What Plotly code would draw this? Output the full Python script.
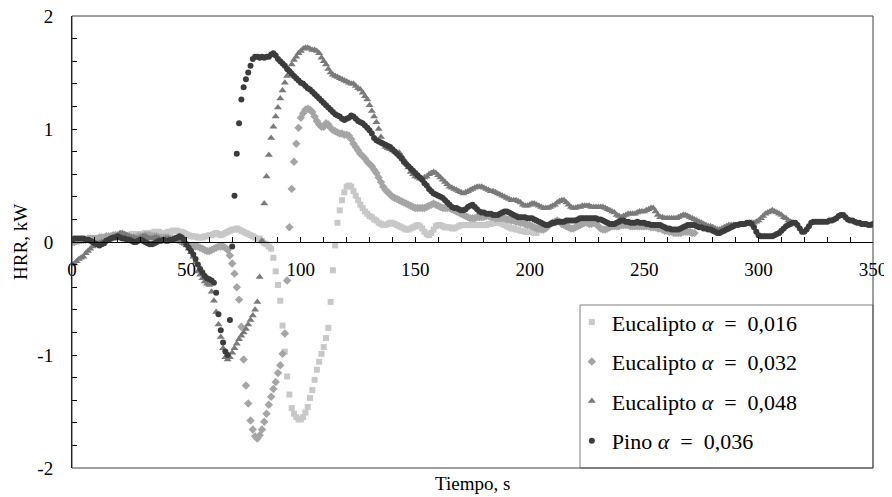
import plotly.graph_objects as go

# ---------------- data (HRR in kW, sampled every 1 s) ----------------
euc016 = [
    0.00, 0.00, 0.01, 0.01, 0.01, 0.02, 0.02, 0.02, 0.02, 0.03,
    0.03, 0.03, 0.03, 0.04, 0.04, 0.04, 0.04, 0.05, 0.05, 0.05,
    0.05, 0.06, 0.06, 0.06, 0.06, 0.06, 0.07, 0.07, 0.07, 0.07,
    0.07, 0.07, 0.08, 0.08, 0.08, 0.08, 0.09, 0.09, 0.09, 0.08,
    0.08, 0.08, 0.09, 0.09, 0.10, 0.10, 0.10, 0.09, 0.09, 0.08,
    0.07, 0.06, 0.05, 0.05, 0.05, 0.04, 0.04, 0.04, 0.05, 0.05,
    0.06, 0.06, 0.07, 0.08, 0.07, 0.06, 0.07, 0.08, 0.09, 0.10,
    0.11, 0.11, 0.12, 0.11, 0.10, 0.09, 0.08, 0.07, 0.06, 0.05,
    0.04, 0.03, 0.03, 0.01, -0.01, -0.02, -0.04, -0.06, -0.14, -0.26,
    -0.38, -0.52, -0.74, -0.97, -1.19, -1.35, -1.47, -1.52, -1.55, -1.57,
    -1.57, -1.55, -1.51, -1.46, -1.38, -1.31, -1.22, -1.13, -1.06, -0.99,
    -0.93, -0.85, -0.76, -0.53, -0.25, -0.03, 0.17, 0.28, 0.37, 0.44,
    0.49, 0.50, 0.49, 0.45, 0.41, 0.37, 0.33, 0.30, 0.27, 0.25,
    0.23, 0.22, 0.20, 0.19, 0.17, 0.16, 0.15, 0.15, 0.16, 0.17,
    0.17, 0.16, 0.15, 0.14, 0.13, 0.12, 0.11, 0.11, 0.12, 0.13,
    0.14, 0.15, 0.14, 0.12, 0.09, 0.07, 0.06, 0.08, 0.11, 0.14,
    0.15, 0.15, 0.14, 0.13, 0.13, 0.13, 0.12, 0.12, 0.13, 0.14,
    0.15, 0.15, 0.15, 0.15, 0.15, 0.15, 0.15, 0.15, 0.15, 0.15,
    0.15, 0.15, 0.16, 0.16, 0.17, 0.17, 0.18, 0.17, 0.16, 0.15,
    0.14, 0.13, 0.12, 0.12, 0.11, 0.11, 0.10, 0.10, 0.09, 0.09,
    0.09, 0.09, 0.08, 0.08,
]

euc032 = [
    0.00, 0.00, 0.01, 0.01, 0.02, 0.02, 0.02, 0.03, 0.03, 0.03,
    0.03, 0.03, 0.04, 0.04, 0.04, 0.05, 0.05, 0.05, 0.06, 0.06,
    0.06, 0.06, 0.06, 0.05, 0.05, 0.05, 0.04, 0.04, 0.04, 0.05,
    0.05, 0.05, 0.06, 0.06, 0.06, 0.05, 0.05, 0.05, 0.04, 0.04,
    0.04, 0.04, 0.04, 0.03, 0.03, 0.03, 0.02, 0.01, 0.00, -0.01,
    -0.02, -0.03, -0.04, -0.04, -0.04, -0.04, -0.05, -0.06, -0.07, -0.08,
    -0.08, -0.07, -0.06, -0.05, -0.04, -0.04, -0.04, -0.05, -0.07, -0.12,
    -0.19, -0.28, -0.40, -0.51, -0.75, -1.04, -1.27, -1.43, -1.58, -1.66,
    -1.72, -1.74, -1.71, -1.66, -1.59, -1.52, -1.44, -1.37, -1.30, -1.24,
    -1.16, -1.09, -0.99, -0.81, -0.34, 0.13, 0.47, 0.71, 0.87, 1.01,
    1.10, 1.14, 1.17, 1.18, 1.17, 1.15, 1.11, 1.07, 1.04, 1.02,
    1.02, 1.05, 1.04, 1.01, 0.99, 0.98, 0.97, 0.96, 0.96, 0.95,
    0.95, 0.94, 0.91, 0.87, 0.84, 0.81, 0.78, 0.76, 0.74, 0.71,
    0.69, 0.67, 0.64, 0.61, 0.57, 0.53, 0.49, 0.46, 0.44, 0.42,
    0.40, 0.39, 0.38, 0.37, 0.36, 0.35, 0.34, 0.33, 0.32, 0.31,
    0.30, 0.30, 0.30, 0.30, 0.30, 0.31, 0.32, 0.33, 0.34, 0.33,
    0.32, 0.31, 0.30, 0.30, 0.30, 0.30, 0.29, 0.28, 0.27, 0.26,
    0.25, 0.24, 0.23, 0.22, 0.21, 0.21, 0.21, 0.22, 0.22, 0.22,
    0.22, 0.23, 0.23, 0.22, 0.22, 0.21, 0.21, 0.21, 0.21, 0.21,
    0.20, 0.20, 0.19, 0.19, 0.18, 0.18, 0.17, 0.17, 0.16, 0.15,
    0.15, 0.14, 0.13, 0.12, 0.12, 0.11, 0.11, 0.12, 0.14, 0.16,
    0.17, 0.18, 0.19, 0.18, 0.16, 0.15, 0.14, 0.13, 0.12, 0.12,
    0.13, 0.14, 0.15, 0.16, 0.17, 0.17, 0.16, 0.16, 0.17, 0.16,
    0.14, 0.12, 0.11, 0.11, 0.12, 0.13, 0.14, 0.14, 0.14, 0.14,
    0.15, 0.15, 0.15, 0.15, 0.14, 0.14, 0.14, 0.14, 0.14, 0.14,
    0.14, 0.14, 0.14, 0.13, 0.13, 0.13, 0.12, 0.12, 0.11, 0.10,
    0.10, 0.09, 0.09, 0.08, 0.08, 0.08, 0.08, 0.09, 0.09, 0.09,
    0.09, 0.08, 0.08,
]

euc048 = [
    -0.20, -0.19, -0.17, -0.15, -0.14, -0.13, -0.10, -0.08, -0.06, -0.04,
    -0.03, -0.02, -0.01, 0.00, 0.00, 0.01, 0.02, 0.03, 0.04, 0.05,
    0.06, 0.08, 0.08, 0.07, 0.06, 0.05, 0.04, 0.04, 0.03, 0.03,
    0.04, 0.05, 0.05, 0.04, 0.03, 0.03, 0.04, 0.04, 0.03, 0.02,
    0.02, 0.03, 0.03, 0.02, 0.02, 0.02, 0.03, 0.02, 0.01, -0.01,
    -0.03, -0.06, -0.09, -0.13, -0.18, -0.26, -0.29, -0.32, -0.35, -0.37,
    -0.38, -0.44, -0.52, -0.62, -0.73, -0.84, -0.94, -1.02, -1.04, -1.02,
    -0.98, -0.94, -0.90, -0.86, -0.83, -0.80, -0.77, -0.73, -0.69, -0.65,
    -0.60, -0.53, -0.31, 0.01, 0.34, 0.58, 0.77, 0.92, 1.02, 1.11,
    1.19, 1.27, 1.34, 1.41, 1.47, 1.52, 1.57, 1.61, 1.64, 1.67,
    1.69, 1.71, 1.72, 1.72, 1.71, 1.70, 1.70, 1.69, 1.67, 1.63,
    1.60, 1.57, 1.53, 1.50, 1.48, 1.47, 1.46, 1.45, 1.44, 1.43,
    1.42, 1.41, 1.40, 1.40, 1.38, 1.36, 1.35, 1.32, 1.29, 1.26,
    1.21, 1.16, 1.11, 1.06, 1.00, 0.93, 0.87, 0.84, 0.83, 0.82,
    0.81, 0.80, 0.79, 0.79, 0.76, 0.73, 0.70, 0.66, 0.62, 0.60,
    0.58, 0.57, 0.56, 0.56, 0.57, 0.58, 0.60, 0.61, 0.62, 0.61,
    0.59, 0.57, 0.55, 0.53, 0.51, 0.49, 0.48, 0.47, 0.46, 0.45,
    0.44, 0.43, 0.44, 0.45, 0.46, 0.47, 0.48, 0.49, 0.49, 0.49,
    0.48, 0.47, 0.46, 0.45, 0.45, 0.44, 0.43, 0.42, 0.41, 0.40,
    0.39, 0.38, 0.37, 0.37, 0.37, 0.36, 0.35, 0.33, 0.32, 0.32,
    0.33, 0.34, 0.34, 0.33, 0.32, 0.31, 0.30, 0.30, 0.30, 0.31,
    0.32, 0.33, 0.35, 0.36, 0.37, 0.37, 0.35, 0.33, 0.31, 0.30,
    0.30, 0.31, 0.31, 0.32, 0.32, 0.32, 0.32, 0.31, 0.31, 0.31,
    0.31, 0.31, 0.31, 0.30, 0.29, 0.28, 0.27, 0.26, 0.24, 0.23,
    0.22, 0.23, 0.24, 0.25, 0.25, 0.25, 0.25, 0.26, 0.27, 0.27,
    0.27, 0.28, 0.29, 0.30, 0.30, 0.27, 0.24, 0.22, 0.22, 0.21,
    0.21, 0.21, 0.21, 0.21, 0.21, 0.22, 0.23, 0.24, 0.24, 0.23,
    0.22, 0.21, 0.20, 0.19, 0.18, 0.17, 0.16, 0.15, 0.14, 0.14,
    0.13, 0.12, 0.11, 0.11, 0.12, 0.13, 0.14, 0.15, 0.15, 0.15,
    0.15, 0.15, 0.15, 0.16, 0.16, 0.16, 0.17, 0.17, 0.17, 0.18,
    0.19, 0.21, 0.23, 0.25, 0.26, 0.27, 0.28, 0.27, 0.26, 0.25,
    0.24, 0.22, 0.21, 0.19, 0.18, 0.17,
]

pino036 = [
    0.02, 0.03, 0.03, 0.03, 0.03, 0.03, 0.02, 0.02, 0.01, 0.00,
    -0.01, -0.02, -0.03, -0.02, -0.01, 0.01, 0.02, 0.03, 0.04, 0.04,
    0.05, 0.04, 0.03, 0.03, 0.02, 0.02, 0.01, 0.00, 0.00, 0.01,
    0.02, 0.01, 0.00, -0.01, -0.02, -0.02, -0.01, 0.00, 0.01, 0.01,
    0.02, 0.01, 0.01, 0.02, 0.02, 0.03, 0.04, 0.05, 0.04, 0.02,
    -0.02, -0.05, -0.08, -0.11, -0.15, -0.20, -0.24, -0.27, -0.30, -0.32,
    -0.33, -0.34, -0.36, -0.45, -0.64, -0.78, -0.89, -0.97, -1.00, -0.69,
    -0.04, 0.41, 0.78, 1.05, 1.26, 1.37, 1.44, 1.50, 1.56, 1.62,
    1.64, 1.64, 1.63, 1.64, 1.63, 1.64, 1.64, 1.66, 1.67, 1.65,
    1.62, 1.60, 1.58, 1.56, 1.53, 1.51, 1.49, 1.47, 1.45, 1.43,
    1.41, 1.40, 1.38, 1.36, 1.35, 1.33, 1.31, 1.29, 1.27, 1.25,
    1.23, 1.21, 1.19, 1.17, 1.15, 1.13, 1.12, 1.11, 1.09, 1.08,
    1.09, 1.10, 1.12, 1.11, 1.09, 1.07, 1.06, 1.05, 1.03, 1.01,
    0.99, 0.96, 0.92, 0.90, 0.89, 0.88, 0.87, 0.86, 0.85, 0.84,
    0.82, 0.80, 0.78, 0.76, 0.74, 0.71, 0.69, 0.67, 0.65, 0.63,
    0.61, 0.59, 0.57, 0.55, 0.52, 0.50, 0.47, 0.45, 0.43, 0.42,
    0.41, 0.40, 0.39, 0.37, 0.35, 0.33, 0.31, 0.30, 0.30, 0.29,
    0.28, 0.28, 0.29, 0.31, 0.32, 0.33, 0.31, 0.29, 0.27, 0.26,
    0.26, 0.25, 0.25, 0.25, 0.24, 0.24, 0.24, 0.25, 0.26, 0.27,
    0.27, 0.26, 0.25, 0.24, 0.23, 0.22, 0.22, 0.22, 0.22, 0.21,
    0.21, 0.21, 0.20, 0.19, 0.18, 0.17, 0.16, 0.15, 0.15, 0.16,
    0.17, 0.17, 0.18, 0.18, 0.18, 0.18, 0.19, 0.19, 0.19, 0.19,
    0.19, 0.20, 0.21, 0.21, 0.21, 0.21, 0.21, 0.21, 0.21, 0.21,
    0.20, 0.20, 0.19, 0.18, 0.17, 0.16, 0.16, 0.16, 0.17, 0.18,
    0.19, 0.19, 0.18, 0.18, 0.17, 0.17, 0.17, 0.18, 0.17, 0.17,
    0.17, 0.16, 0.16, 0.15, 0.15, 0.15, 0.15, 0.15, 0.14, 0.13,
    0.12, 0.12, 0.11, 0.11, 0.11, 0.11, 0.12, 0.13, 0.14, 0.15,
    0.15, 0.15, 0.15, 0.14, 0.13, 0.13, 0.12, 0.12, 0.11, 0.11,
    0.10, 0.09, 0.08, 0.08, 0.09, 0.10, 0.11, 0.12, 0.13, 0.14,
    0.15, 0.15, 0.16, 0.16, 0.16, 0.17, 0.17, 0.16, 0.13, 0.09,
    0.06, 0.05, 0.05, 0.05, 0.05, 0.05, 0.05, 0.06, 0.07, 0.08,
    0.10, 0.12, 0.14, 0.15, 0.16, 0.17, 0.17, 0.15, 0.12, 0.09,
    0.09, 0.11, 0.14, 0.17, 0.18, 0.18, 0.18, 0.18, 0.18, 0.18,
    0.18, 0.19, 0.19, 0.20, 0.21, 0.23, 0.24, 0.24, 0.22, 0.20,
    0.19, 0.19, 0.18, 0.17, 0.17, 0.16, 0.16, 0.16, 0.15, 0.15,
    0.16,
]

SP = "\u2002"  # wider math-like spacing around "="
series_names = [
    f"Eucalipto <i>α</i>{SP}={SP}0,016",
    f"Eucalipto <i>α</i>{SP}={SP}0,032",
    f"Eucalipto <i>α</i>{SP}={SP}0,048",
    f"Pino <i>α</i>{SP}={SP}0,036",
]

x_tick_vals = [0, 50, 100, 150, 200, 250, 300, 350]
x_tick_text = ["0", "50", "100", "150", "200", "250", "300", "350"]
y_tick_vals = [-2, -1, 0, 1, 2]
y_tick_text = ["-2", "-1", "0", "1", "2"]

# ---------------- figure ----------------
series = [euc016, euc032, euc048, pino036]
colors = ["#c8c8c8", "#a5a5a5", "#7a7a7a", "#3c3c3c"]
symbols = ["square", "diamond", "triangle-up", "circle"]
sizes = [6, 6.5, 7, 6]

fig = go.Figure()
for i, (vals, name) in enumerate(zip(series, series_names)):
    fig.add_trace(go.Scatter(
        x=list(range(len(vals))), y=vals, name=name, mode="markers",
        legendgroup=f"g{i}",
        marker=dict(symbol=symbols[i], size=sizes[i], color=colors[i],
                    line=dict(width=0)),
    ))

FONT = "serif"

# page is offset by the 8 px default body margin -> shrink the figure to fit
W, H = 884, 489
fig.update_layout(
    width=W, height=H,
    margin=dict(l=64, r=19, t=8, b=29, autoexpand=False),
    paper_bgcolor="white", plot_bgcolor="white",
    font=dict(family=FONT, size=19, color="black"),
    showlegend=True,
    legend=dict(
        x=0.624, y=0.013, xanchor="left", yanchor="bottom",
        bgcolor="rgba(255,255,255,0)", borderwidth=0,
        font=dict(family=FONT, size=22, color="black"),
        tracegroupgap=8, itemsizing="trace",
    ),
    xaxis=dict(
        range=[0, 350], anchor="free", position=0.5, automargin=False,
        tickmode="array", tickvals=x_tick_vals, ticktext=x_tick_text,
        ticks="inside", ticklen=5, tickwidth=1, tickcolor="black",
        minor=dict(dtick=10, tick0=0, ticks="inside", ticklen=5,
                   tickwidth=1, tickcolor="black"),
        showline=True, linecolor="black", linewidth=1,
        showgrid=False, zeroline=False, ticklabelstandoff=10,
        ticklabeloverflow="allow",
        tickfont=dict(family=FONT, size=19),
    ),
    yaxis=dict(
        range=[-2, 2], automargin=False,
        tickmode="array", tickvals=y_tick_vals, ticktext=y_tick_text,
        ticks="inside", ticklen=5, tickwidth=1, tickcolor="black",
        minor=dict(dtick=0.2, tick0=0, ticks="inside", ticklen=5,
                   tickwidth=1, tickcolor="black"),
        showline=True, linecolor="black", linewidth=1,
        showgrid=False, zeroline=False, ticklabelstandoff=14,
        ticklabeloverflow="allow",
        tickfont=dict(family=FONT, size=19),
    ),
    shapes=[
        dict(type="rect", xref="paper", yref="paper", x0=0, y0=0, x1=1, y1=1,
             line=dict(color="#404040", width=1), layer="above"),
        dict(type="rect", xref="paper", yref="paper",
             x0=(580 - 72) / 801, y0=0, x1=1, y1=(468 - 305) / 452,
             line=dict(color="#808080", width=1), fillcolor="white",
             layer="below"),
    ],
    annotations=[
        dict(text="HRR, kW", xref="paper", yref="paper", x=-0.065, y=0.5,
             textangle=-90, showarrow=False, xanchor="center", yanchor="middle",
             font=dict(family=FONT, size=19)),
        dict(text="Tiempo, s", xref="paper", yref="paper", x=0.5,
             y=(468 - 483) / 452, showarrow=False, xanchor="center",
             yanchor="middle", font=dict(family=FONT, size=19)),
    ],
)

fig.write_html("out.html")
